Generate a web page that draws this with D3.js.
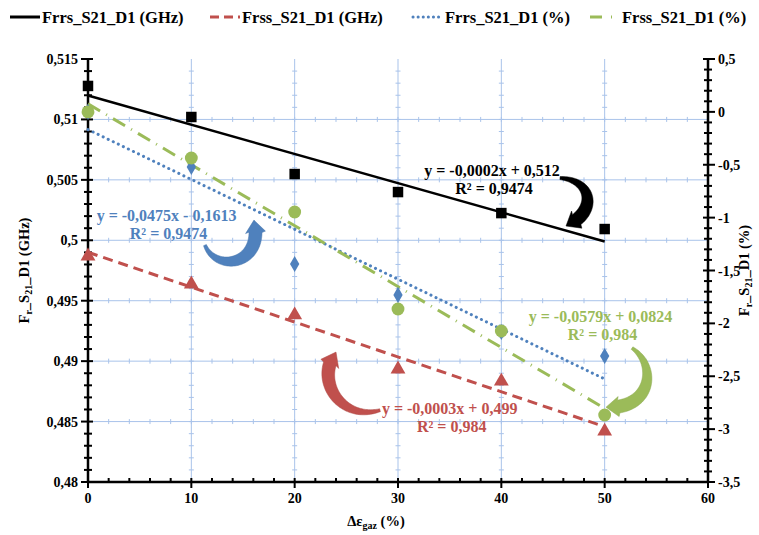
<!DOCTYPE html>
<html><head><meta charset="utf-8">
<script src="https://cdn.jsdelivr.net/npm/d3@7"></script>
<style>body{margin:0;background:#fff}svg{display:block}</style>
</head><body><svg id="c" width="759" height="535" font-family="'Liberation Serif', 'Times New Roman', Times, serif" font-weight="bold"></svg>
<script>
const xValues = [0, 10, 20, 30, 40, 50];
const frrsGHz = [0.51277, 0.5102, 0.50548, 0.50399, 0.50225, 0.50093];
const frssGHz = [0.49869, 0.49637, 0.49381, 0.48934, 0.48834, 0.4842];
const frrsPct = [0, -0.521, -1.438, -1.731, -2.081, -2.308];
const frssPct = [0, -0.436, -0.947, -1.864, -2.072, -2.866];
const xTicks = [0, 10, 20, 30, 40, 50, 60];
const yLeftTicks = [0.48, 0.485, 0.49, 0.495, 0.5, 0.505, 0.51, 0.515];
const yRightTicks = [-3.5, -3, -2.5, -2, -1.5, -1, -0.5, 0, 0.5];
const seriesNames = ["Frrs_S21_D1 (GHz)", "Frss_S21_D1  (GHz)", "Frrs_S21_D1 (%)", "Frss_S21_D1  (%)"];
const colors = ["#000000", "#c0504d", "#4f81bd", "#9bbb59"];
const equations = [
  ["y = -0,0002x + 0,512", "R² = 0,9474"],
  ["y = -0,0003x + 0,499", "R² = 0,984"],
  ["y = -0,0475x - 0,1613", "R² = 0,9474"],
  ["y = -0,0579x + 0,0824", "R² = 0,984"]
];
// label anchors (x, left-axis y) and curved arrows (tail, c1, c2, tip) in data units (left axis)
const eqAnchors = [[39.1, 0.50531], [35.0, 0.48563], [7.6, 0.50159], [49.6, 0.49324]];
const arrows = [
  [[45.68,0.50515],[48.9,0.50498],[49.3,0.50233],[46.26,0.50118]],
  [[28.26,0.48594],[24.5,0.48500],[21.9,0.48843],[24.0,0.49075]],
  [[11.32,0.49960],[12.4,0.49723],[17.1,0.49800],[16.06,0.50167]],
  [[52.65,0.49108],[55.1,0.48967],[54.6,0.48600],[50.13,0.48619]]
];

const svg = d3.select("#c");
const L = 88, R = 708, T = 59, B = 482;
const x = d3.scaleLinear().domain([0, 60]).range([L, R]);
const yL = d3.scaleLinear().domain([0.48, 0.515]).range([B, T]);
const yR = d3.scaleLinear().domain([-3.5, 0.5]).range([B, T]);
const fmt = v => String(+v.toFixed(4)).replace(".", ",");
const grid = "#a9c3ea";

// gridlines
const g = svg.append("g");
xTicks.filter(v => v > 0 && v < 60).forEach(v => {
  g.append("line").attr("x1", x(v)).attr("x2", x(v)).attr("y1", T).attr("y2", B).attr("stroke", grid).attr("stroke-width", 1);
  d3.range(0.481, 0.5149, 0.001).forEach(t => g.append("line").attr("x1", x(v) - 2.5).attr("x2", x(v) + 2.5).attr("y1", yL(t)).attr("y2", yL(t)).attr("stroke", grid));
});
yLeftTicks.filter(v => v > 0.48 && v < 0.515).forEach(v => {
  g.append("line").attr("x1", L).attr("x2", R).attr("y1", yL(v)).attr("y2", yL(v)).attr("stroke", grid).attr("stroke-width", 1);
  d3.range(2, 60, 2).forEach(t => g.append("line").attr("x1", x(t)).attr("x2", x(t)).attr("y1", yL(v) - 2.5).attr("y2", yL(v) + 2.5).attr("stroke", grid));
});

// axes
const ax = svg.append("g");
function tick(x1, y1, x2, y2) { ax.append("line").attr("x1", x1).attr("y1", y1).attr("x2", x2).attr("y2", y2).attr("stroke", "#000").attr("stroke-width", 2); }
ax.append("line").attr("x1", L).attr("x2", R).attr("y1", B).attr("y2", B).attr("stroke", "#000").attr("stroke-width", 2.5);
ax.append("line").attr("x1", L).attr("x2", L).attr("y1", T).attr("y2", B + 1).attr("stroke", "#000").attr("stroke-width", 2.5);
ax.append("line").attr("x1", R).attr("x2", R).attr("y1", T).attr("y2", B + 1).attr("stroke", "#000").attr("stroke-width", 2.5);
d3.range(0, 60.1, 2).forEach(v => { if (v % 10 === 0) tick(x(v), B - 4, x(v), B + 6); else tick(x(v), B - 4, x(v), B + 1); });
d3.range(0, 36).forEach(i => { const v = 0.48 + i * 0.001; if (i % 5 === 0) tick(L - 7, yL(v), L + 5, yL(v)); else tick(L - 4, yL(v), L + 4, yL(v)); });
d3.range(0, 41).forEach(i => { const v = -3.5 + i * 0.1; if (i % 5 === 0) tick(R - 5, yR(v), R + 7, yR(v)); else tick(R - 4, yR(v), R + 4, yR(v)); });

ax.selectAll(".xl").data(xTicks).join("text").attr("x", d => x(d)).attr("y", B + 21).attr("text-anchor", "middle").attr("font-size", 14).text(d => d);
ax.selectAll(".yl").data(yLeftTicks).join("text").attr("x", L - 10).attr("y", d => yL(d) + 5).attr("text-anchor", "end").attr("font-size", 14).text(fmt);
ax.selectAll(".yr").data(yRightTicks).join("text").attr("x", R + 10).attr("y", d => yR(d) + 5).attr("text-anchor", "start").attr("font-size", 14).text(fmt);

// axis titles
const xt = svg.append("text").attr("x", 376).attr("y", 526).attr("text-anchor", "middle").attr("font-size", 14.5);
xt.append("tspan").text("Δε");
xt.append("tspan").attr("font-size", 10).attr("dy", 3).text("gaz");
xt.append("tspan").attr("dy", -3).text(" (%)");
function yTitle(cx, unit) {
  const t = svg.append("text").attr("transform", `translate(${cx},${(T + B) / 2}) rotate(-90)`).attr("text-anchor", "middle").attr("font-size", 14.5);
  t.append("tspan").text("F");
  t.append("tspan").attr("font-size", 10).attr("dy", 3).text("r");
  t.append("tspan").attr("dy", -3).text("_S");
  t.append("tspan").attr("font-size", 10).attr("dy", 3).text("21");
  t.append("tspan").attr("dy", -3).text("_D1 " + unit);
}
yTitle(29, "(GHz)");
yTitle(749, "(%)");

// regression
function reg(ys) {
  const mx = d3.mean(xValues), my = d3.mean(ys);
  const s = d3.sum(xValues, (v, i) => (v - mx) * (ys[i] - my)) / d3.sum(xValues, v => (v - mx) ** 2);
  return [s, my - s * mx];
}
const series = [
  { ys: frrsGHz, y: yL, dash: null, w: 2.5, cap: "butt" },
  { ys: frssGHz, y: yL, dash: "10,6", w: 3, cap: "butt" },
  { ys: frrsPct, y: yR, dash: "0.1,5.5", w: 3, cap: "round" },
  { ys: frssPct, y: yR, dash: "14,7,1,7", w: 3, cap: "butt" }
];
const lines = svg.append("g"), marks = svg.append("g");
series.forEach((s, i) => {
  const [m, b] = reg(s.ys);
  lines.append("line").attr("x1", x(0)).attr("x2", x(50)).attr("y1", s.y(b)).attr("y2", s.y(b + 50 * m))
    .attr("stroke", colors[i]).attr("stroke-width", s.w).attr("stroke-dasharray", s.dash).attr("stroke-linecap", s.cap);
});
const symbols = [d3.symbolSquare, d3.symbolTriangle, d3.symbolDiamond, d3.symbolCircle];
const sizes = [110, 95, 75, 130];
series.forEach((s, i) => {
  marks.selectAll(null).data(s.ys).join("path")
    .attr("transform", (d, j) => `translate(${x(xValues[j])},${s.y(d)})`)
    .attr("d", d3.symbol(symbols[i], sizes[i])).attr("fill", colors[i]);
});

// equation labels
equations.forEach((e, i) => {
  const [ax0, ay0] = eqAnchors[i];
  const t = svg.append("text").attr("text-anchor", "middle").attr("font-size", 16).attr("fill", colors[i]);
  t.append("tspan").attr("x", x(ax0)).attr("y", yL(ay0)).text(e[0]);
  t.append("tspan").attr("x", x(ax0) + 2).attr("dy", 18).text(e[1]);
});

// curved arrows
function bez(p, t) {
  const u = 1 - t;
  return [0, 1].map(k => u*u*u*p[0][k] + 3*u*u*t*p[1][k] + 3*u*t*t*p[2][k] + t*t*t*p[3][k]);
}
arrows.forEach((a, i) => {
  const p = a.map(d => [x(d[0]), yL(d[1])]);
  const N = 60, pts = d3.range(N + 1).map(k => bez(p, k / N));
  const tip = pts[N];
  let j = N; while (j > 0 && Math.hypot(pts[j][0] - tip[0], pts[j][1] - tip[1]) < 12) j--;
  const body = pts.slice(0, j + 1);
  const left = [], right = [];
  body.forEach((q, k) => {
    const n = body[Math.min(k + 1, body.length - 1)], pr = body[Math.max(k - 1, 0)];
    let dx = n[0] - pr[0], dy = n[1] - pr[1]; const l = Math.hypot(dx, dy) || 1; dx /= l; dy /= l;
    const w = (1.5 + 5 * Math.sin(Math.PI / 2 * k / (body.length - 1)));
    left.push([q[0] - dy * w, q[1] + dx * w]); right.push([q[0] + dy * w, q[1] - dx * w]);
  });
  const base = body[body.length - 1];
  let dx = tip[0] - base[0], dy = tip[1] - base[1]; const l = Math.hypot(dx, dy); dx /= l; dy /= l;
  const hw = 10;
  const poly = left.concat([[base[0] - dy * hw, base[1] + dx * hw], tip, [base[0] + dy * hw, base[1] - dx * hw]], right.reverse());
  svg.append("path").attr("d", "M" + poly.map(q => q.join(",")).join("L") + "Z").attr("fill", colors[i]).attr("stroke", d3.color(colors[i]).darker(0.3)).attr("stroke-width", 0.5);
});

// legend
const lg = svg.append("g");
const legX = [10, 210, 413, 590];
const legDash = [null, "9,5", "0.1,5", "12,9,1,9"];
seriesNames.forEach((n, i) => {
  lg.append("line").attr("x1", legX[i]).attr("x2", legX[i] + 30).attr("y1", 17).attr("y2", 17)
    .attr("stroke", colors[i]).attr("stroke-width", 3).attr("stroke-dasharray", legDash[i]).attr("stroke-linecap", i === 2 ? "round" : "butt");
  lg.append("text").attr("x", legX[i] + 32).attr("y", 22.5).attr("font-size", 16.5).text(n);
});
</script></body></html>
